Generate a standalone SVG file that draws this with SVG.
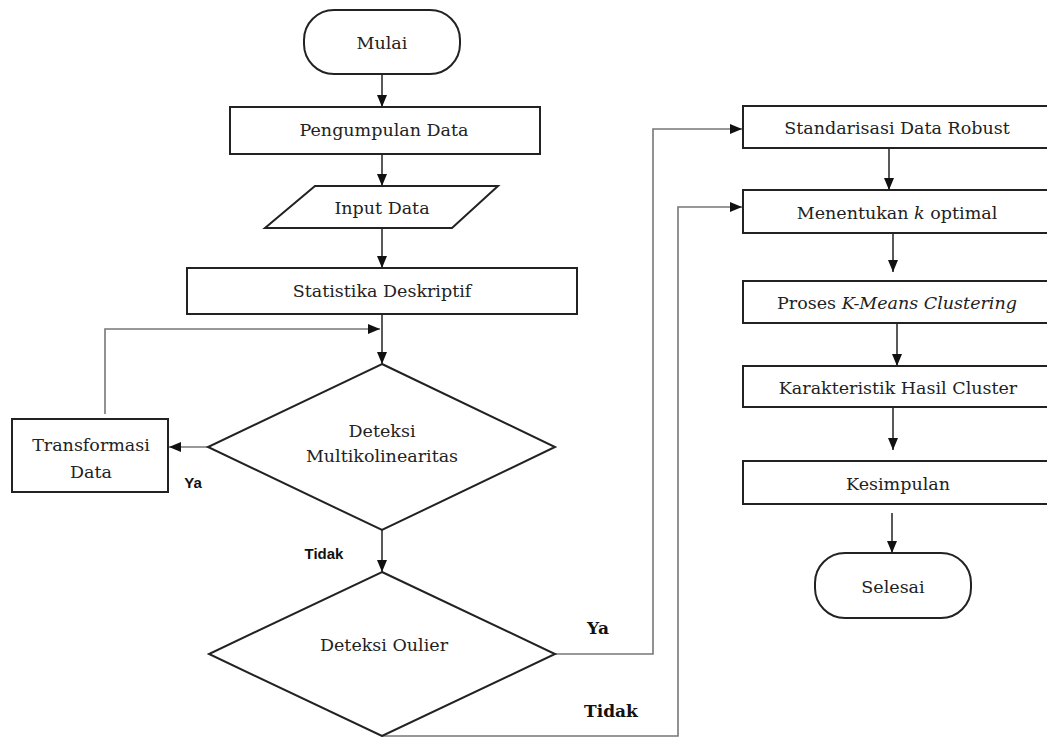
<svg xmlns="http://www.w3.org/2000/svg" width="1047" height="737" viewBox="0 0 1047 737">
<defs>
<style>
.n{fill:#fff;stroke:#222;stroke-width:2}
.t{font-family:"DejaVu Serif","Liberation Serif",serif;font-size:17.5px;fill:#222;text-anchor:middle;dominant-baseline:central}
.lb{font-family:"Liberation Sans","Open Sans",sans-serif;font-size:15px;font-weight:bold;fill:#111;text-anchor:middle;dominant-baseline:central}
.lr{font-family:"DejaVu Serif","Liberation Serif",serif;font-size:17px;font-weight:bold;fill:#111;text-anchor:middle;dominant-baseline:central}
.c{fill:none;stroke:#222;stroke-width:1.5}
.g{fill:none;stroke:#777;stroke-width:1.6}
</style>
<marker id="ah" markerUnits="userSpaceOnUse" markerWidth="12" markerHeight="10" refX="12" refY="5" orient="auto">
<path d="M0,0 L12,5 L0,10 Z" fill="#111"/>
</marker>
</defs>
<rect width="1047" height="737" fill="#fff"/>
<g id="connectors">
<line class="c" x1="382" y1="74" x2="382" y2="107" marker-end="url(#ah)"/>
<line class="c" x1="382" y1="154" x2="382" y2="186" marker-end="url(#ah)"/>
<line class="c" x1="382" y1="228" x2="382" y2="268" marker-end="url(#ah)"/>
<line class="c" x1="382" y1="314" x2="382" y2="364" marker-end="url(#ah)"/>
<polyline class="g" points="105,414 105,329 380,329" marker-end="url(#ah)"/>
<line class="g" x1="208" y1="447" x2="169" y2="447" marker-end="url(#ah)"/>
<line class="c" x1="382" y1="530" x2="382" y2="572" marker-end="url(#ah)"/>
<polyline class="g" points="555,654 653,654 653,129 742,129" marker-end="url(#ah)"/>
<polyline class="g" points="382,736 678,736 678,207 742,207" marker-end="url(#ah)"/>
<line class="c" x1="889" y1="148" x2="889" y2="190" marker-end="url(#ah)"/>
<line class="c" x1="893" y1="233" x2="893" y2="272" marker-end="url(#ah)"/>
<line class="c" x1="897" y1="323" x2="897" y2="366" marker-end="url(#ah)"/>
<line class="c" x1="893" y1="407" x2="893" y2="450" marker-end="url(#ah)"/>
<line class="c" x1="892" y1="513" x2="892" y2="553" marker-end="url(#ah)"/>
<text class="lb" x="193" y="482">Ya</text>
<text class="lb" x="324" y="553">Tidak</text>
<text class="lr" x="598" y="628">Ya</text>
<text class="lr" x="611" y="711">Tidak</text>
</g>
<g id="mulai"><rect class="n" x="304" y="10" width="156" height="64" rx="30"/><text class="t" x="382" y="43">Mulai</text></g>
<g id="pengumpulan"><rect class="n" x="230" y="107" width="310" height="47"/><text class="t" x="384" y="130">Pengumpulan Data</text></g>
<g id="input"><polygon class="n" points="315,186 498,186 452,228 265,228"/><text class="t" x="382" y="208">Input Data</text></g>
<g id="statistika"><rect class="n" x="187" y="268" width="390" height="46"/><text class="t" x="382" y="291">Statistika Deskriptif</text></g>
<g id="multikolinearitas"><polygon class="n" points="382,364 555,447 382,530 208,447"/><text class="t" x="382" y="431">Deteksi</text><text class="t" x="382" y="456">Multikolinearitas</text></g>
<g id="transformasi"><rect class="n" x="12" y="419" width="156" height="73"/><text class="t" x="91" y="445">Transformasi</text><text class="t" x="91" y="472">Data</text></g>
<g id="outlier"><polygon class="n" points="382,572 555,654 382,736 209,654"/><text class="t" x="384" y="645">Deteksi Oulier</text></g>
<g id="standarisasi"><rect class="n" x="743" y="106" width="320" height="42"/><text class="t" x="897" y="128">Standarisasi Data Robust</text></g>
<g id="kopt"><rect class="n" x="743" y="190" width="320" height="43"/><text class="t" x="897" y="213">Menentukan <tspan font-style="italic">k</tspan> optimal</text></g>
<g id="kmeans"><rect class="n" x="743" y="281" width="320" height="42"/><text class="t" x="897" y="303">Proses <tspan font-style="italic">K-Means Clustering</tspan></text></g>
<g id="karakteristik"><rect class="n" x="743" y="366" width="320" height="41"/><text class="t" x="898" y="388">Karakteristik Hasil Cluster</text></g>
<g id="kesimpulan"><rect class="n" x="743" y="461" width="320" height="43"/><text class="t" x="898" y="484">Kesimpulan</text></g>
<g id="selesai"><rect class="n" x="815" y="553" width="156" height="65" rx="30"/><text class="t" x="893" y="587">Selesai</text></g>
</svg>
